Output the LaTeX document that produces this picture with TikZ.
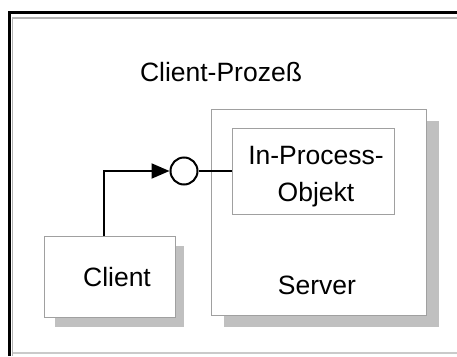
\documentclass[tikz,border=0pt]{standalone}
\usepackage{fontspec}
\setmainfont{Liberation Sans}
\usetikzlibrary{arrows.meta}
\definecolor{shadowgray}{HTML}{C0C0C0}
\definecolor{edgegray}{HTML}{A0A0A0}
\definecolor{framegray}{HTML}{B4B4B4}
\begin{document}
\begin{tikzpicture}[x=1pt,y=-1pt,
  box/.style={draw=edgegray, line width=1pt, fill=white, inner sep=0pt},
  shade/.style={fill=shadowgray, draw=none},
  label/.style={font=\fontsize{26.5}{37}\selectfont, inner sep=0pt, align=center},
  link/.style={draw=black, line width=2pt}]
  \useasboundingbox (0,0) rectangle (457,356);

  % window frame
  \draw[line width=3pt] (9.5,356) -- (9.5,12.5) -- (457,12.5);
  \draw[framegray, line width=1.2pt] (12.5,356) -- (12.5,18) -- (457,18);
  \draw[framegray!70, line width=1.2pt] (12.5,353) -- (457,353);

  % drop shadows
  \fill[shade] (54.7,246) rectangle (184,327);
  \fill[shade] (223.7,121) rectangle (439,327);

  % boxes
  \node[box, minimum width=130.3pt, minimum height=81pt] (client) at (110,276.5) {};
  \node[box, minimum width=215.3pt, minimum height=206pt] (server) at (319.3,212) {};
  \node[box, minimum width=162pt, minimum height=86pt] (inproc) at (313,171) {};

  % texts
  \node[label] (title) at (221,72) {Client-Prozeß};
  \node[label] (clientlbl) at (117,277) {Client};
  \node[label] (serverlbl) at (317,285) {Server};
  \node[label] (objlbl) at (316,176.5) {In-Process-\\Objekt};

  % interface lollipop
  \node[draw, circle, line width=2pt, fill=white, minimum size=27pt, inner sep=0pt] (iface) at (184,171) {};
  \coordinate (tap) at (104,236);
  \draw[link] (iface.east) -- (inproc.west);
  \draw[link, -{Triangle[length=18pt,width=15pt]}] (tap) |- (iface.west);
\end{tikzpicture}
\end{document}
